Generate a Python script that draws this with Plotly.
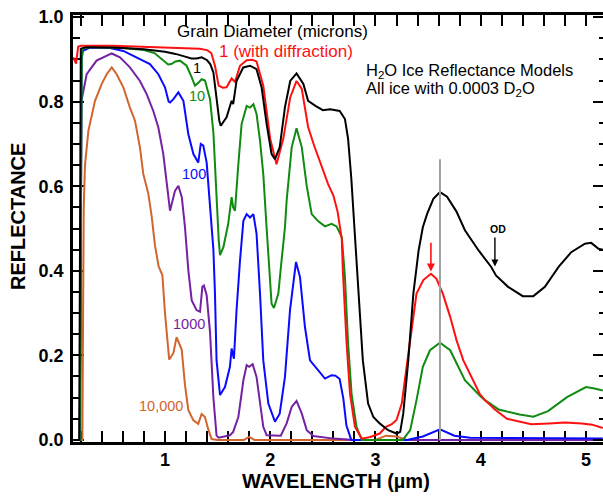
import plotly.graph_objects as go

# ---------------- data (wavelength in microns, reflectance) ----------------
red_wl = [0.13, 0.155, 0.175, 0.2, 0.5, 0.8, 1.0, 1.2, 1.33, 1.40, 1.44, 1.475, 1.51, 1.55, 1.585,
          1.633, 1.665, 1.713, 1.776, 1.83, 1.87, 1.934, 2.0, 2.06, 2.124, 2.19, 2.25, 2.30, 2.36,
          2.42, 2.49, 2.55, 2.60, 2.64, 2.68, 2.69, 2.726, 2.758, 2.805, 2.87, 2.95, 3.04, 3.10,
          3.155, 3.20, 3.25, 3.296, 3.344, 3.39, 3.455, 3.527, 3.58, 3.64, 3.71, 3.77, 3.835,
          3.90, 3.99, 4.04, 4.135, 4.25, 4.33, 4.48, 4.65, 4.80, 4.96, 5.06, 5.16]
red_r = [0.905, 0.89, 0.93, 0.932, 0.932, 0.930, 0.928, 0.926, 0.925, 0.922, 0.915, 0.885, 0.838,
         0.833, 0.834, 0.855, 0.847, 0.885, 0.898, 0.899, 0.895, 0.838, 0.712, 0.652, 0.712, 0.81,
         0.849, 0.83, 0.74, 0.694, 0.648, 0.605, 0.578, 0.54, 0.475, 0.40, 0.228, 0.109, 0.031,
         0.003, 0.007, 0.015, 0.031, 0.037, 0.047, 0.086, 0.173, 0.267, 0.346, 0.378, 0.393, 0.381,
         0.346, 0.291, 0.236, 0.188, 0.155, 0.109, 0.094, 0.072, 0.050, 0.045, 0.037, 0.039, 0.041,
         0.039, 0.036, 0.028]

black_wl = [0.13, 0.185, 0.20, 0.25, 0.5, 0.8, 1.0, 1.1, 1.2, 1.25, 1.30, 1.35, 1.40, 1.43, 1.46,
            1.49, 1.516, 1.53, 1.585, 1.633, 1.648, 1.68, 1.744, 1.808, 1.87, 1.918, 1.966, 2.013,
            2.045, 2.09, 2.14, 2.19, 2.25, 2.315, 2.36, 2.43, 2.50, 2.57, 2.66, 2.71, 2.74, 2.77,
            2.80, 2.835, 2.88, 2.93, 2.98, 3.04, 3.12, 3.20, 3.235, 3.264, 3.312, 3.36, 3.41, 3.45,
            3.49, 3.55, 3.613, 3.68, 3.77, 3.85, 3.98, 4.10, 4.125, 4.145, 4.26, 4.40, 4.50, 4.61,
            4.74, 4.86, 4.99, 5.05, 5.12, 5.16]
black_r = [0.0, 0.0, 0.925, 0.929, 0.928, 0.924, 0.918, 0.913, 0.906, 0.902, 0.902, 0.905, 0.898,
           0.889, 0.869, 0.81, 0.755, 0.743, 0.763, 0.802, 0.794, 0.849, 0.881, 0.885, 0.877, 0.834,
           0.747, 0.676, 0.664, 0.692, 0.787, 0.849, 0.867, 0.842, 0.802, 0.79, 0.78, 0.782, 0.778,
           0.759, 0.712, 0.62, 0.50, 0.346, 0.188, 0.086, 0.054, 0.039, 0.023, 0.015, 0.019, 0.062,
           0.188, 0.346, 0.448, 0.503, 0.534, 0.57, 0.586, 0.575, 0.54, 0.496, 0.448, 0.409, 0.398,
           0.389, 0.362, 0.340, 0.340, 0.362, 0.409, 0.444, 0.464, 0.466, 0.452, 0.45]

green_wl = [0.13, 0.19, 0.21, 0.3, 0.6, 0.8, 0.9, 0.95, 1.0, 1.03, 1.06, 1.10, 1.143, 1.205, 1.25,
            1.285, 1.32, 1.348, 1.38, 1.405, 1.428, 1.46, 1.49, 1.51, 1.523, 1.555, 1.60, 1.633,
            1.648, 1.665, 1.697, 1.728, 1.776, 1.808, 1.84, 1.87, 1.903, 1.934, 1.966, 2.013, 2.035,
            2.077, 2.108, 2.14, 2.156, 2.204, 2.25, 2.30, 2.347, 2.394, 2.457, 2.52, 2.583, 2.63,
            2.68, 2.71, 2.74, 2.773, 2.82, 2.87, 3.26, 3.33, 3.39, 3.45, 3.518, 3.613, 3.71, 3.80,
            3.85, 3.99, 4.04, 4.17, 4.37, 4.50, 4.64, 4.82, 5.0, 5.07, 5.16]
green_r = [0.0, 0.0, 0.925, 0.929, 0.927, 0.922, 0.915, 0.905, 0.895, 0.888, 0.889, 0.895, 0.897,
           0.885, 0.86, 0.838, 0.845, 0.853, 0.85, 0.83, 0.806, 0.727, 0.57, 0.475, 0.437, 0.456,
           0.51, 0.574, 0.55, 0.542, 0.652, 0.747, 0.79, 0.786, 0.794, 0.771, 0.708, 0.629, 0.50,
           0.322, 0.312, 0.346, 0.425, 0.503, 0.566, 0.692, 0.737, 0.692, 0.60, 0.534, 0.517, 0.505,
           0.511, 0.505, 0.48, 0.385, 0.228, 0.109, 0.031, 0.0, 0.0, 0.023, 0.094, 0.173, 0.212,
           0.23, 0.212, 0.165, 0.141, 0.105, 0.094, 0.072, 0.06, 0.055, 0.068, 0.101, 0.125, 0.122,
           0.117]

blue_wl = [0.13, 0.19, 0.208, 0.22, 0.287, 0.477, 0.604, 0.73, 0.857, 0.937, 1.0, 1.035, 1.048,
           1.08, 1.127, 1.175, 1.222, 1.27, 1.316, 1.34, 1.364, 1.396, 1.428, 1.46, 1.475, 1.49,
           1.523, 1.57, 1.617, 1.633, 1.655, 1.68, 1.713, 1.745, 1.776, 1.808, 1.84, 1.87, 1.903,
           1.934, 1.982, 2.045, 2.09, 2.14, 2.188, 2.245, 2.283, 2.33, 2.378, 2.44, 2.52, 2.583,
           2.62, 2.66, 2.695, 2.724, 2.77, 3.30, 3.45, 3.613, 3.75, 3.9, 4.5, 5.16]
blue_r = [0.0, 0.0, 0.90, 0.92, 0.928, 0.927, 0.92, 0.905, 0.889, 0.865, 0.834, 0.80, 0.798,
          0.806, 0.822, 0.802, 0.723, 0.676, 0.656, 0.70, 0.696, 0.656, 0.554, 0.45, 0.346, 0.188,
          0.106, 0.125, 0.173, 0.216, 0.192, 0.307, 0.425, 0.518, 0.534, 0.526, 0.534, 0.488, 0.346,
          0.188, 0.086, 0.043, 0.062, 0.149, 0.307, 0.421, 0.385, 0.267, 0.188, 0.168, 0.145, 0.153,
          0.152, 0.144, 0.097, 0.034, 0.0, 0.0, 0.008, 0.025, 0.01, 0.005, 0.004, 0.003]

purple_wl = [0.13, 0.195, 0.205, 0.256, 0.35, 0.446, 0.494, 0.572, 0.667, 0.762, 0.826, 0.889,
             0.937, 0.984, 1.016, 1.048, 1.095, 1.127, 1.16, 1.19, 1.222, 1.254, 1.30, 1.333, 1.355,
             1.37, 1.396, 1.428, 1.46, 1.49, 1.51, 1.617, 1.648, 1.697, 1.745, 1.776, 1.80, 1.833,
             1.87, 1.903, 1.934, 1.966, 2.1, 2.156, 2.204, 2.25, 2.30, 2.347, 2.41, 2.6, 2.8, 5.16]
purple_r = [0.0, 0.0, 0.80, 0.865, 0.897, 0.909, 0.914, 0.905, 0.881, 0.849, 0.818, 0.778, 0.739,
            0.676, 0.605, 0.542, 0.589, 0.601, 0.574, 0.503, 0.401, 0.33, 0.307, 0.303, 0.362, 0.365,
            0.342, 0.255, 0.10, 0.01, 0.005, 0.011, 0.019, 0.054, 0.141, 0.177, 0.173, 0.179, 0.149,
            0.086, 0.031, 0.011, 0.01, 0.039, 0.078, 0.092, 0.062, 0.023, 0.009, 0.003, 0.0, 0.0]

orange_wl = [0.13, 0.215, 0.222, 0.228, 0.24, 0.272, 0.335, 0.399, 0.446, 0.494, 0.541, 0.604,
             0.667, 0.715, 0.762, 0.794, 0.842, 0.873, 0.905, 0.94, 0.975, 1.0, 1.04, 1.08, 1.11,
             1.159, 1.19, 1.222, 1.27, 1.316, 1.348, 1.38, 1.41, 1.443, 1.5, 1.75, 1.8, 1.85, 3.0,
             3.1, 3.2, 3.3, 5.16]
orange_r = [0.0, 0.0, 0.30, 0.55, 0.65, 0.731, 0.802, 0.842, 0.865, 0.881, 0.865, 0.834, 0.786,
            0.755, 0.692, 0.629, 0.582, 0.53, 0.46, 0.41, 0.39, 0.30, 0.19, 0.205, 0.243, 0.213,
            0.13, 0.07, 0.046, 0.038, 0.061, 0.054, 0.026, 0.002, 0.0, 0.0, 0.007, 0.0, 0.0, 0.01,
            0.008, 0.0, 0.0]

od_line_wl = [3.613, 3.613]
od_line_r = [0.0, 0.664]

series = [
    (orange_wl, orange_r, "#d2652d", "10,000"),
    (purple_wl, purple_r, "#7421a3", "1000"),
    (blue_wl, blue_r, "#0a0aff", "100"),
    (green_wl, green_r, "#118a11", "10"),
    (red_wl, red_r, "#ff1010", "1 (with diffraction)"),
    (black_wl, black_r, "#000000", "1"),
]

FONT = "Liberation Sans, Arial, Helvetica, sans-serif"
YR = [-0.005, 1.005]
XR = [0.126, 5.162]

fig = go.Figure()

fig.add_trace(go.Scatter(x=od_line_wl, y=od_line_r, mode="lines", yaxis="y2",
                         line=dict(color="#a0a0a0", width=2), showlegend=False, hoverinfo="skip"))

for wl, r, col, name in series:
    fig.add_trace(go.Scatter(x=wl, y=r, mode="lines", name=name,
                             line=dict(color=col, width=2), showlegend=False))

tickfont = dict(family=FONT, size=18, color="black", weight="bold")

fig.update_layout(
    width=603, height=498,
    margin=dict(l=73, r=0, t=15, b=56),
    paper_bgcolor="white", plot_bgcolor="white",
    showlegend=False,
    xaxis=dict(range=XR, showgrid=False, zeroline=False, showline=True, linecolor="black",
               linewidth=2.5, mirror="allticks", ticks="inside", ticklen=11, tickwidth=2,
               tickcolor="black", tick0=0, dtick=1, tickfont=tickfont, ticklabelstandoff=0,
               layer="below traces",
               minor=dict(dtick=0.2, tick0=0, ticks="inside", ticklen=6, tickwidth=2,
                          tickcolor="black", showgrid=False)),
    yaxis=dict(range=YR, showgrid=False, zeroline=False, showline=True, linecolor="black",
               linewidth=2.5, mirror=False, ticks="inside", ticklen=11, tickwidth=2,
               tickcolor="black", tick0=0, dtick=0.2, tickformat=".1f", tickfont=tickfont,
               ticklabelstandoff=3, layer="below traces",
               minor=dict(dtick=0.05, tick0=0, ticks="inside", ticklen=7, tickwidth=2,
                          tickcolor="black", showgrid=False)),
    yaxis2=dict(range=YR, overlaying="y", side="right", showgrid=False, zeroline=False,
                showline=False, showticklabels=False, ticks="inside", ticklen=10, tickwidth=2,
                tickcolor="black", tick0=0, dtick=0.2,
                minor=dict(dtick=0.05, tick0=0, ticks="inside", ticklen=4, tickwidth=2,
                           tickcolor="black", showgrid=False)),
)

def txt(x, y, s, size, color="black", xanchor="center", bold=False):
    fig.add_annotation(x=x, y=y, xref="x", yref="y", text=s, showarrow=False,
                       xanchor=xanchor, yanchor="middle",
                       font=dict(family=FONT, size=size, color=color,
                                 weight="bold" if bold else "normal"))

txt(2.02, 0.965, "Grain Diameter (microns)", 17)
txt(2.148, 0.919, "1 (with diffraction)", 17, "#ff1010")
txt(2.893, 0.873, "H<sub>2</sub>O Ice Reflectance Models", 16.5, xanchor="left")
txt(2.893, 0.829, "All ice with 0.0003 D<sub>2</sub>O", 16.5, xanchor="left")
txt(1.30, 0.880, "1", 14.5)
txt(1.30, 0.813, "10", 14.5, "#118a11")
txt(1.275, 0.628, "100", 14.5, "#0a0aff")
txt(1.228, 0.273, "1000", 14.5, "#7421a3")
txt(0.962, 0.079, "10,000", 14.5, "#d2652d")
txt(4.16, 0.500, "OD", 10.5, bold=True)

# arrows
fig.add_annotation(x=3.527, y=0.398, ax=3.527, ay=0.470, xref="x", yref="y", axref="x", ayref="y",
                   text="", showarrow=True, arrowhead=2, arrowsize=1, arrowwidth=1.6,
                   arrowcolor="#ff1010")
fig.add_annotation(x=4.135, y=0.410, ax=4.135, ay=0.482, xref="x", yref="y", axref="x", ayref="y",
                   text="", showarrow=True, arrowhead=2, arrowsize=1, arrowwidth=1.4,
                   arrowcolor="black")

# axis titles
fig.add_annotation(x=(18 - 73) / 530, y=(442 - 217) / 427, xref="paper", yref="paper",
                   xanchor="center", yanchor="middle",
                   text="REFLECTANCE", textangle=-90, showarrow=False,
                   font=dict(family=FONT, size=20, color="black", weight="bold"))
fig.add_annotation(x=(336 - 73) / 530, y=(442 - 481) / 427, xref="paper", yref="paper",
                   xanchor="center", yanchor="middle",
                   text="WAVELENGTH (\u00b5m)", showarrow=False,
                   font=dict(family=FONT, size=20, color="black", weight="bold"))

fig.write_html("out.html", config={"displayModeBar": False},
               post_script="document.body.style.margin='0px';")
